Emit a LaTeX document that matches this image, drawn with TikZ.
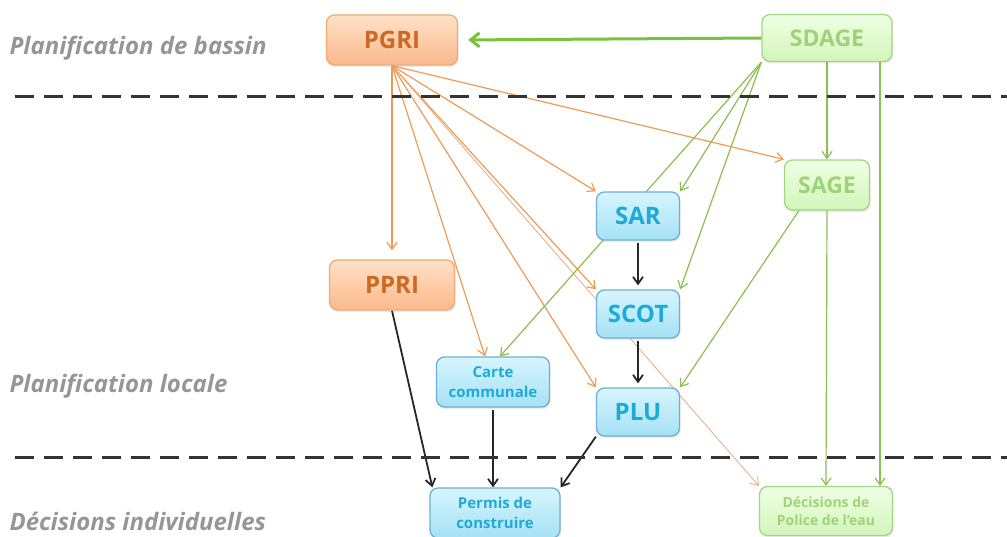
\documentclass[tikz,border=0pt]{standalone}
\usepackage{fontspec}
\setmainfont{Open Sans}
\usetikzlibrary{arrows.meta,shadows,backgrounds}
\definecolor{orBord}{RGB}{240,170,115}
\definecolor{orTop}{RGB}{255,225,200}
\definecolor{orBot}{RGB}{250,185,140}
\definecolor{orText}{RGB}{205,105,35}
\definecolor{orLine}{RGB}{240,155,85}
\definecolor{orThin}{RGB}{230,170,130}
\definecolor{grBord}{RGB}{160,215,130}
\definecolor{grTop}{RGB}{240,255,230}
\definecolor{grBot}{RGB}{210,245,185}
\definecolor{grText}{RGB}{160,210,120}
\definecolor{grLine}{RGB}{140,190,80}
\definecolor{grBig}{RGB}{120,195,60}
\definecolor{blBord}{RGB}{110,175,215}
\definecolor{blTop}{RGB}{215,245,255}
\definecolor{blBot}{RGB}{165,225,245}
\definecolor{blText}{RGB}{30,170,215}
\definecolor{lblGray}{RGB}{150,150,150}
\begin{document}
\begin{tikzpicture}[x=1pt,y=-1pt,
  box/.style={rounded corners=8pt, line width=1.3pt, inner sep=0pt, align=center,
    drop shadow={opacity=0.15, shadow xshift=1pt, shadow yshift=-2pt}},
  orbox/.style={box, draw=orBord, top color=orTop, bottom color=orBot, text=orText,
    font=\bfseries\fontsize{24}{27}\selectfont},
  grbox/.style={box, draw=grBord, top color=grTop, bottom color=grBot, text=grText,
    font=\bfseries\fontsize{23}{26}\selectfont},
  grsmall/.style={grbox, font=\bfseries\fontsize{14}{18}\selectfont},
  blbox/.style={box, draw=blBord, top color=blTop, bottom color=blBot, text=blText,
    font=\bfseries\fontsize{24}{27}\selectfont},
  blsmall/.style={blbox, font=\bfseries\fontsize{15}{20}\selectfont},
  tip/.style={-{Straight Barb[length=7pt,width=10pt]}},
  orarr/.style={tip, draw=orLine, line width=1.2pt},
  thinarr/.style={tip, draw=orThin, line width=0.8pt},
  grarr/.style={tip, draw=grLine, line width=1.2pt},
  bkarr/.style={tip, draw=black!85, line width=1.8pt},
  bigarr/.style={-{Straight Barb[length=9pt,width=14pt]}, draw=grBig, line width=3pt},
  sep/.style={draw=black!80, line width=3pt, dash pattern=on 19pt off 10pt},
  lbl/.style={anchor=west, text=lblGray, font=\bfseries\itshape\fontsize{24}{28}\selectfont}
]
\useasboundingbox (0,0) rectangle (1007,537);

% separators
\draw[sep] (15,97) -- (1007,97);
\draw[sep] (15,457) -- (1007,457);

% level labels
\node[lbl] (l1) at (6,48) {Planification de bassin};
\node[lbl] (l2) at (6,386) {Planification locale};
\node[lbl] (l3) at (6,521) {Décisions individuelles};

% nodes
\node[orbox, minimum width=131pt, minimum height=50pt] (pgri) at (392,40) {PGRI};
\node[grbox, minimum width=130pt, minimum height=47pt] (sdage) at (827,38) {SDAGE};
\node[grbox, minimum width=85pt, minimum height=50pt] (sage) at (827,185) {SAGE};
\node[blbox, minimum width=83pt, minimum height=48pt] (sar) at (638,216) {SAR};
\node[blbox, minimum width=83pt, minimum height=48pt] (scot) at (638,314) {SCOT};
\node[blbox, minimum width=83pt, minimum height=48pt] (plu) at (638,412) {PLU};
\node[orbox, minimum width=125pt, minimum height=50pt] (ppri) at (392,285) {PPRI};
\node[blsmall, minimum width=113pt, minimum height=50pt] (carte) at (493,382) {Carte\\communale};
\node[blsmall, minimum width=130pt, minimum height=50pt] (permis) at (495,513) {Permis de\\construire};
\node[grsmall, minimum width=133pt, minimum height=49pt] (decis) at (826,511) {Décisions de\\Police de l'eau};

\begin{scope}[on background layer]
% from PGRI
\draw[orarr, shorten >=9pt] (pgri.south) -- (ppri.north);
\draw[orarr] (pgri.south) -- (sage.north west);
\draw[orarr] (pgri.south) -- (sar.north west);
\draw[orarr] (pgri.south) -- (scot.north west);
\draw[orarr] (pgri.south) -- ([xshift=-8pt]carte.north);
\draw[orarr] (pgri.south) -- (plu.north west);
\draw[thinarr] (pgri.south) -- (decis.north west);
% from SDAGE
\draw[bigarr, shorten >=10pt] (sdage.west) -- (pgri.east);
\draw[grarr] (sdage.south west) -- (sar.north east);
\draw[grarr] (sdage.south west) -- (scot.north east);
\draw[grarr] (sdage.south west) -- ([xshift=7pt]carte.north);
\draw[grarr] (sdage.south) -- (sage.north);
\draw[grarr] ([xshift=53pt]sdage.south) -- ([xshift=54pt]decis.north);
% from SAGE
\draw[grarr] ([xshift=15pt]sage.south west) -- (plu.north east);
\draw[grarr] (sage.south) -- (decis.north);
% black
\draw[bkarr, shorten >=4pt, shorten <=2pt] (sar.south) -- (scot.north);
\draw[bkarr, shorten >=4pt, shorten <=2pt] (scot.south) -- (plu.north);
\draw[bkarr] (ppri.south) -- ([xshift=3pt]permis.north west);
\draw[bkarr, shorten <=2pt] (carte.south) -- (carte.south |- permis.north);
\draw[bkarr] (plu.south west) -- (permis.north east);
\end{scope}
\end{tikzpicture}
\end{document}
